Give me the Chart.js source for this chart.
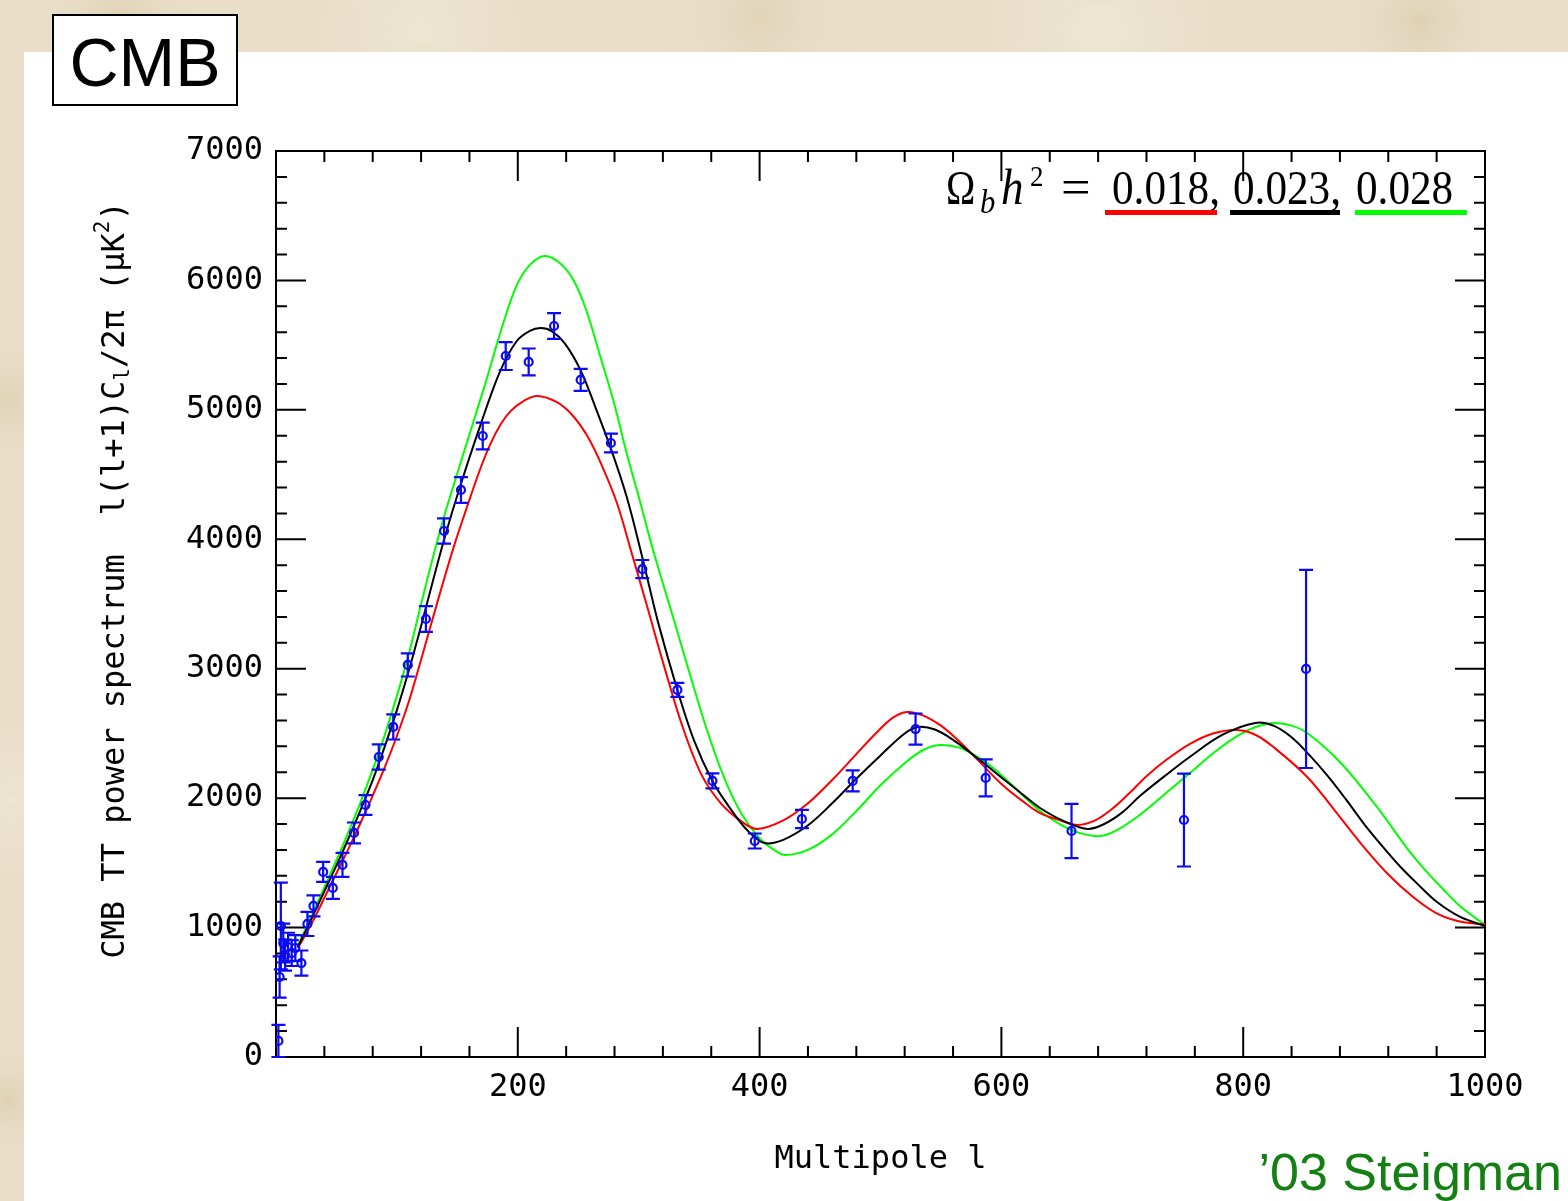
<!DOCTYPE html>
<html>
<head>
<meta charset="utf-8">
<script src="https://cdn.jsdelivr.net/npm/chart.js@4.4.0/dist/chart.umd.min.js"></script>
<style>
  html, body { margin: 0; padding: 0; background: #e9dfc9; }
  canvas { display: block; }
</style>
</head>
<body>
<canvas id="cmb" width="1568" height="1201"></canvas>
<script>
// model curves, Omega_b h^2 = 0.018 / 0.023 / 0.028
var redL = [18,30,40,50,60,70,80,90,100,110,120,130,138,148,158,168,177,186,194,205,216,232,245,258,270,282,294,307,321,336,352,368,385,398,420,440,460,480,495,510,522,535,550,565,580,600,620,632,648,663,678,692,706,720,737,756,775,795,810,825,853,880,900,920,940,960,980,1000];
var redV = [840,1040,1230,1420,1610,1810,2020,2240,2480,2750,3070,3400,3660,3970,4250,4520,4730,4890,4990,5070,5107,5061,4960,4790,4560,4280,3900,3480,3020,2560,2180,1960,1820,1762,1830,1960,2140,2340,2490,2620,2666,2640,2560,2440,2300,2110,1960,1885,1830,1793,1830,1920,2040,2170,2300,2420,2500,2527,2490,2395,2163,1854,1620,1410,1240,1110,1045,1025];

var blackL = [18,30,40,50,60,70,80,90,100,110,120,130,140,152,169,185,199,210,219,228,239,252,264,277,290,303,316,332,346,361,375,390,404,420,440,460,480,500,520,531,545,560,580,600,620,632,650,671,685,700,715,735,756,783,810,825,840,855,870,885,900,915,930,945,960,980,1000];
var blackV = [850,1080,1280,1480,1690,1910,2140,2400,2680,2990,3330,3686,4030,4400,4880,5290,5530,5610,5632,5608,5512,5305,5025,4700,4330,3860,3360,2836,2440,2133,1930,1750,1653,1680,1790,1960,2150,2330,2500,2550,2530,2450,2310,2160,2010,1924,1830,1762,1800,1890,2020,2170,2320,2490,2581,2560,2470,2330,2170,1990,1800,1630,1470,1330,1200,1080,1012];

var greenL = [18,30,40,50,60,70,80,90,100,110,123,137,150,162,174,187,199,210,222,234,246,257,268,280,290,300,310,320,330,341,356,371,385,400,412,421,440,460,480,500,520,535,549,565,580,595,610,632,650,665,682,695,710,725,740,756,777,797,812,826,840,853,880,910,935,950,965,980,1000];
var greenV = [860,1100,1310,1520,1740,1970,2220,2490,2790,3120,3610,4110,4510,4870,5230,5640,5960,6120,6189,6140,6003,5760,5420,5040,4667,4330,3980,3660,3350,3000,2540,2150,1880,1690,1600,1561,1600,1720,1900,2100,2270,2370,2410,2390,2320,2220,2090,1900,1790,1730,1707,1750,1840,1950,2070,2194,2360,2490,2555,2581,2560,2503,2279,1940,1620,1450,1300,1160,1020];

// measured band powers with 1-sigma errors
var dataL = [2,3,4,6,7.5,10,13,16,21,26,31,39,47,55,64.5,74,85,97,109,124,139,153,171,190,209,230,252,277,303,332,361,396,435,477,529,587,658,751,852];
var dataV = [124,618,1012,880,788,850,803,842,726,1028,1167,1430,1306,1484,1731,1947,2318,2550,3029,3384,4064,4381,4798,5416,5370,5648,5231,4744,3770,2836,2133,1669,1839,2133,2534,2156,1746,1831,2998];
var dataE = [124,160,335,150,120,110,100,100,97,93,81,77,85,93,81,77,97,97,89,100,97,100,104,108,104,100,85,73,70,54,58,58,70,81,120,143,209,359,765];

var omegaLabels = ['0.018', '0.023', '0.028'];
var curveColors = ['#ff0000', '#000000', '#00ff00'];

var xTickStep = 200, xMinor = 40;
var yTickStep = 1000, yMinor = 200;

function pts(ls, vs) {
  return ls.map(function (l, i) { return {x: l, y: vs[i]}; });
}

var mono = '"DejaVu Sans Mono", monospace';
var blue = '#0a0af5';

var pagePlugin = {
  id: 'page',
  beforeDraw: function (chart) {
    var c = chart.ctx;
    c.save();
    c.fillStyle = '#e9dfc9';
    c.fillRect(0, 0, chart.width, chart.height);
    var spots = [[120, 20, 90, 'rgba(214,198,165,0.55)'], [420, 30, 120, 'rgba(240,232,214,0.7)'],
                 [760, 18, 110, 'rgba(216,200,168,0.5)'], [1100, 30, 130, 'rgba(242,235,220,0.6)'],
                 [1420, 22, 100, 'rgba(212,196,162,0.5)'], [10, 400, 80, 'rgba(214,198,165,0.5)'],
                 [12, 800, 90, 'rgba(240,232,214,0.6)'], [8, 1100, 70, 'rgba(212,196,162,0.5)']];
    spots.forEach(function (s) {
      var g = c.createRadialGradient(s[0], s[1], 0, s[0], s[1], s[2]);
      g.addColorStop(0, s[3]);
      g.addColorStop(1, 'rgba(233,223,201,0)');
      c.fillStyle = g;
      c.fillRect(s[0] - s[2], s[1] - s[2], s[2] * 2, s[2] * 2);
    });
    c.fillStyle = '#ffffff';
    c.fillRect(24, 52, chart.width - 24, chart.height - 52);

    // CMB label box
    c.fillStyle = '#ffffff';
    c.fillRect(53, 15, 184, 90);
    c.strokeStyle = '#000';
    c.lineWidth = 2;
    c.strokeRect(53, 15, 184, 90);
    c.fillStyle = '#000';
    c.font = '68px "Liberation Sans", Arial, sans-serif';
    c.textAlign = 'center';
    c.textBaseline = 'alphabetic';
    c.fillText('CMB', 145, 86);

    // credit
    c.fillStyle = '#148014';
    c.font = '52px "Liberation Sans", Arial, sans-serif';
    c.textAlign = 'right';
    c.fillText('\u201903 Steigman', 1562, 1190);
    c.restore();
  },
  beforeDatasetsDraw: function (chart) {
    var c = chart.ctx, a = chart.chartArea;
    var xs = chart.scales.x, ys = chart.scales.y;
    c.save();
    c.strokeStyle = '#000';
    c.lineWidth = 2;
    c.beginPath();
    for (var l = xs.min; l <= xs.max; l += xMinor) {
      var px = xs.getPixelForValue(l);
      var len = (l % xTickStep === 0) ? 30 : 11;
      c.moveTo(px, a.bottom); c.lineTo(px, a.bottom - len);
      c.moveTo(px, a.top); c.lineTo(px, a.top + len);
    }
    for (var v = ys.min; v <= ys.max; v += yMinor) {
      var py = ys.getPixelForValue(v);
      var ylen = (v % yTickStep === 0) ? 30 : 11;
      c.moveTo(a.left, py); c.lineTo(a.left + ylen, py);
      c.moveTo(a.right, py); c.lineTo(a.right - ylen, py);
    }
    c.stroke();
    c.strokeRect(a.left, a.top, a.right - a.left, a.bottom - a.top);
    c.restore();
  },
  afterDatasetsDraw: function (chart) {
    var c = chart.ctx;
    var xs = chart.scales.x, ys = chart.scales.y;
    c.save();
    c.strokeStyle = blue;
    c.lineWidth = 2.2;
    c.beginPath();
    dataL.forEach(function (l, i) {
      var px = xs.getPixelForValue(l);
      var lo = Math.max(dataV[i] - dataE[i], 0);
      var top = ys.getPixelForValue(dataV[i] + dataE[i]);
      var bot = ys.getPixelForValue(lo);
      c.moveTo(px, top); c.lineTo(px, bot);
      c.moveTo(px - 7, top); c.lineTo(px + 7, top);
      c.moveTo(px - 7, bot); c.lineTo(px + 7, bot);
    });
    c.stroke();
    c.restore();
  },
  afterDraw: function (chart) {
    var c = chart.ctx;
    c.save();
    // y axis title, rotated, with sub/superscripts
    c.translate(116, 580);
    c.rotate(-Math.PI / 2);
    c.fillStyle = '#000';
    c.textBaseline = 'middle';
    c.textAlign = 'left';
    var big = '32px ' + mono, small = '21px ' + mono;
    var parts = [['CMB TT power spectrum  l(l+1)C', big, 0], ['l', small, 8],
                 ['/2\u03c0 (\u03bcK', big, 0], ['2', small, -12], [')', big, 0]];
    var total = 0;
    parts.forEach(function (p) { c.font = p[1]; total += c.measureText(p[0]).width; });
    var x = -total / 2;
    parts.forEach(function (p) {
      c.font = p[1];
      c.fillText(p[0], x, p[2]);
      x += c.measureText(p[0]).width;
    });
    c.restore();

    // legend: Omega_b h^2 = 0.018, 0.023, 0.028
    c.save();
    c.fillStyle = '#000';
    c.textBaseline = 'alphabetic';
    c.textAlign = 'left';
    var serif = '"Liberation Serif", "Times New Roman", serif';
    var base = 204;
    function txt(t, font, x, y, sx) {
      c.save();
      c.font = font;
      c.translate(x, y);
      c.scale(sx || 0.9, 1);
      c.fillText(t, 0, 0);
      c.restore();
    }
    txt('\u03a9', '48px ' + serif, 946, base, 0.82);
    txt('b', 'italic 34px ' + serif, 980, base + 9);
    txt('h', 'italic 50px ' + serif, 1001, base);
    txt('2', '30px ' + serif, 1030, base - 18);
    txt('=', '50px ' + serif, 1061, base, 1.05);
    var numX = [1112, 1233, 1356];
    var lineX = [[1105, 1217], [1230, 1340], [1355, 1467]];
    omegaLabels.forEach(function (t, i) {
      c.fillStyle = '#000';
      txt(t + (i < omegaLabels.length - 1 ? ',' : ''), '48px ' + serif, numX[i], base);
      c.fillStyle = curveColors[i];
      c.fillRect(lineX[i][0], 210, lineX[i][1] - lineX[i][0], 5);
    });
    c.restore();
  }
};

function curve(label, ls, vs, color, order) {
  return {
    label: label,
    data: pts(ls, vs),
    showLine: true,
    borderColor: color,
    borderWidth: 2,
    pointRadius: 0,
    fill: false,
    tension: 0.35,
    order: order
  };
}

var chart = new Chart(document.getElementById('cmb').getContext('2d'), {
  type: 'scatter',
  data: {
    datasets: [
      {
        label: 'data',
        data: pts(dataL, dataV),
        pointRadius: 4,
        pointBorderWidth: 2.2,
        pointBorderColor: blue,
        pointBackgroundColor: 'rgba(0,0,0,0)',
        showLine: false,
        order: 0
      },
      curve(omegaLabels[1], blackL, blackV, curveColors[1], 1),
      curve(omegaLabels[0], redL, redV, curveColors[0], 2),
      curve(omegaLabels[2], greenL, greenV, curveColors[2], 3)
    ]
  },
  plugins: [pagePlugin],
  options: {
    responsive: false,
    animation: false,
    devicePixelRatio: 1,
    layout: { padding: { top: 151, right: 83, bottom: 0, left: 0 } },
    plugins: {
      legend: { display: false },
      tooltip: { enabled: false }
    },
    scales: {
      x: {
        type: 'linear',
        min: 0,
        max: 1000,
        afterFit: function (s) { s.height = 144; },
        grid: { display: false, drawTicks: false },
        border: { display: false },
        ticks: {
          stepSize: xTickStep,
          color: '#000',
          padding: 11,
          font: { family: mono, size: 32 },
          callback: function (v) { return v === 0 ? '' : String(v); }
        },
        title: {
          display: true,
          text: 'Multipole l',
          color: '#000',
          font: { family: mono, size: 32 },
          padding: { top: 0, bottom: 22 }
        }
      },
      y: {
        type: 'linear',
        min: 0,
        max: 7000,
        afterFit: function (s) { s.width = 276; },
        grid: { display: false, drawTicks: false },
        border: { display: false },
        ticks: {
          stepSize: yTickStep,
          color: '#000',
          padding: 13,
          font: { family: mono, size: 32 },
          callback: function (v) { return String(v); }
        }
      }
    }
  }
});
</script>
</body>
</html>
